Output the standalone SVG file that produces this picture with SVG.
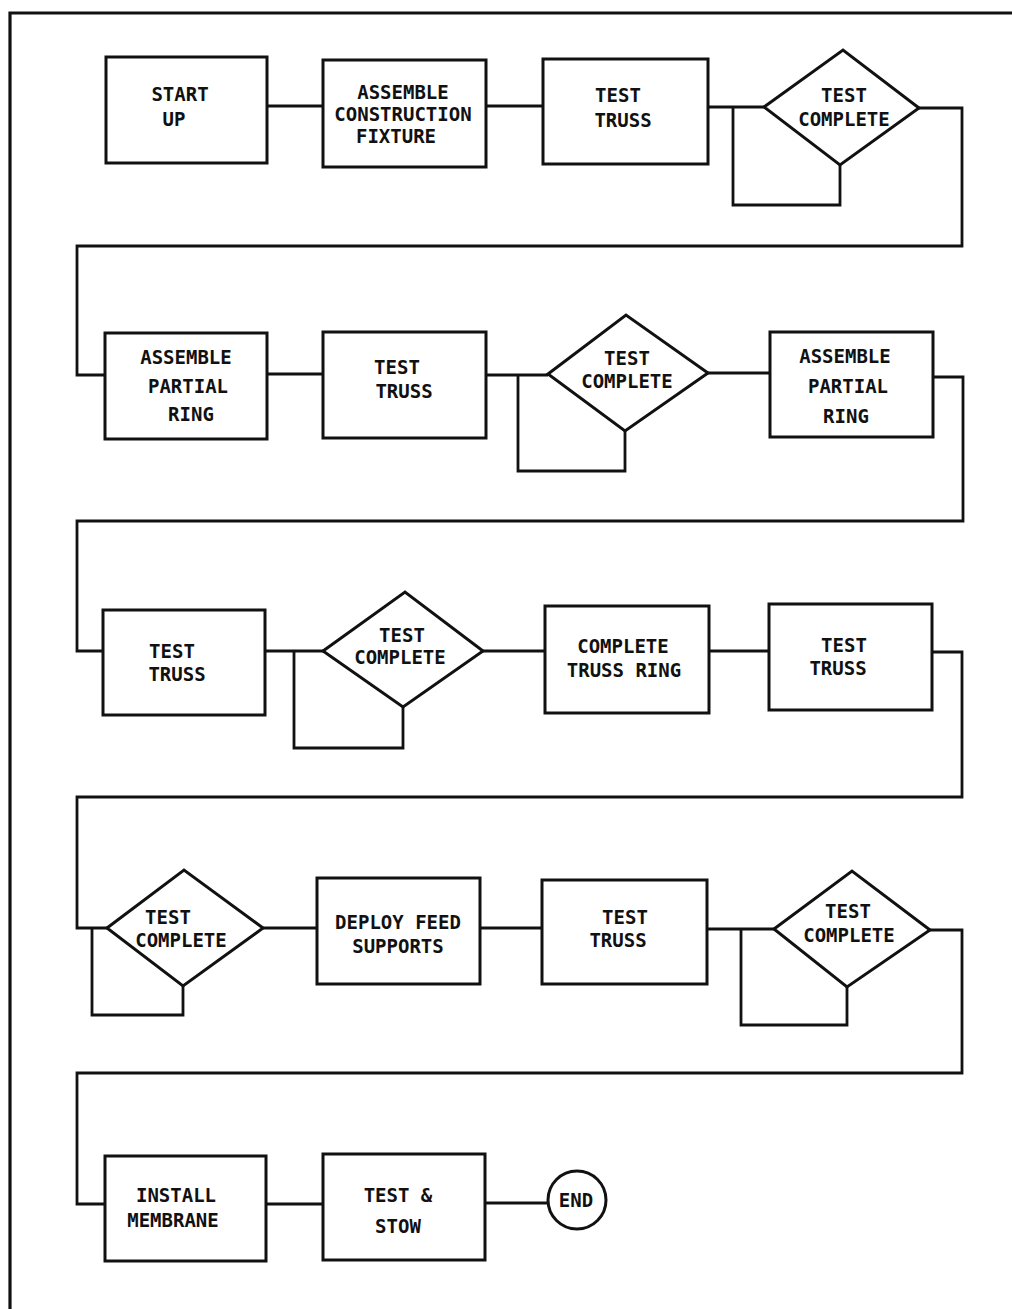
<svg xmlns="http://www.w3.org/2000/svg" width="1012" height="1309" viewBox="0 0 1012 1309">
<style>
  .box{fill:#fff;stroke:#111;stroke-width:3}
  .wire{fill:none;stroke:#111;stroke-width:2.8;stroke-linejoin:miter}
  .frame{fill:none;stroke:#111;stroke-width:3.2}
  text{font-family:"DejaVu Sans Mono","Liberation Mono",monospace;font-weight:bold;font-size:19px;fill:#111;text-anchor:middle}
</style>
<rect width="1012" height="1309" fill="#fff"/>
<path class="frame" d="M10,1309 V13 H1012"/>
<g id="connectors">
  <path class="wire" d="M267,106 H323"/>
  <path class="wire" d="M486,106 H543"/>
  <path class="wire" d="M708,107 H764"/>
  <path class="wire" d="M733,107 V205 H840 V165"/>
  <path class="wire" d="M919,108 H962 V246 H77 V375 H105"/>
  <path class="wire" d="M267,374 H323"/>
  <path class="wire" d="M486,375 H548"/>
  <path class="wire" d="M518,375 V471 H625 V431"/>
  <path class="wire" d="M708,373 H770"/>
  <path class="wire" d="M933,377 H963 V521 H77 V651 H103"/>
  <path class="wire" d="M265,651 H323"/>
  <path class="wire" d="M294,651 V748 H403 V707"/>
  <path class="wire" d="M483,651 H545"/>
  <path class="wire" d="M709,651 H769"/>
  <path class="wire" d="M932,652 H962 V797 H77 V928 H107"/>
  <path class="wire" d="M92,928 V1015 H183 V986"/>
  <path class="wire" d="M263,928 H317"/>
  <path class="wire" d="M480,928 H542"/>
  <path class="wire" d="M707,929 H774"/>
  <path class="wire" d="M741,929 V1025 H847 V987"/>
  <path class="wire" d="M930,930 H962 V1073 H77 V1204 H105"/>
  <path class="wire" d="M266,1204 H323"/>
  <path class="wire" d="M485,1203 H548"/>
</g>
<g id="start-up">
  <rect class="box" x="106" y="57" width="161" height="106"/>
  <text x="180" y="101">START</text>
  <text x="174" y="126">UP</text>
</g>
<g id="assemble-fixture">
  <rect class="box" x="323" y="60" width="163" height="107"/>
  <text x="403" y="99">ASSEMBLE</text>
  <text x="403" y="121">CONSTRUCTION</text>
  <text x="396" y="143">FIXTURE</text>
</g>
<g id="test-truss-1">
  <rect class="box" x="543" y="59" width="165" height="105"/>
  <text x="618" y="102">TEST</text>
  <text x="623" y="127">TRUSS</text>
</g>
<g id="test-complete-1">
  <polygon class="box" points="764,107 843,50 919,108 840,165"/>
  <text x="844" y="102">TEST</text>
  <text x="844" y="126">COMPLETE</text>
</g>
<g id="assemble-partial-ring-1">
  <rect class="box" x="105" y="333" width="162" height="106"/>
  <text x="186" y="364">ASSEMBLE</text>
  <text x="188" y="393">PARTIAL</text>
  <text x="191" y="421">RING</text>
</g>
<g id="test-truss-2">
  <rect class="box" x="323" y="332" width="163" height="106"/>
  <text x="397" y="374">TEST</text>
  <text x="404" y="398">TRUSS</text>
</g>
<g id="test-complete-2">
  <polygon class="box" points="548,374 626,315 708,373 625,431"/>
  <text x="627" y="365">TEST</text>
  <text x="627" y="388">COMPLETE</text>
</g>
<g id="assemble-partial-ring-2">
  <rect class="box" x="770" y="332" width="163" height="105"/>
  <text x="845" y="363">ASSEMBLE</text>
  <text x="848" y="393">PARTIAL</text>
  <text x="846" y="423">RING</text>
</g>
<g id="test-truss-3">
  <rect class="box" x="103" y="610" width="162" height="105"/>
  <text x="172" y="658">TEST</text>
  <text x="177" y="681">TRUSS</text>
</g>
<g id="test-complete-3">
  <polygon class="box" points="323,651 405,592 483,651 403,707"/>
  <text x="402" y="642">TEST</text>
  <text x="400" y="664">COMPLETE</text>
</g>
<g id="complete-truss-ring">
  <rect class="box" x="545" y="606" width="164" height="107"/>
  <text x="623" y="653">COMPLETE</text>
  <text x="624" y="677">TRUSS RING</text>
</g>
<g id="test-truss-4">
  <rect class="box" x="769" y="604" width="163" height="106"/>
  <text x="844" y="652">TEST</text>
  <text x="838" y="675">TRUSS</text>
</g>
<g id="test-complete-4">
  <polygon class="box" points="107,928 184,870 263,928 183,986"/>
  <text x="168" y="924">TEST</text>
  <text x="181" y="947">COMPLETE</text>
</g>
<g id="deploy-feed-supports">
  <rect class="box" x="317" y="878" width="163" height="106"/>
  <text x="398" y="929">DEPLOY FEED</text>
  <text x="398" y="953">SUPPORTS</text>
</g>
<g id="test-truss-5">
  <rect class="box" x="542" y="880" width="165" height="104"/>
  <text x="625" y="924">TEST</text>
  <text x="618" y="947">TRUSS</text>
</g>
<g id="test-complete-5">
  <polygon class="box" points="774,929 852,871 930,930 847,987"/>
  <text x="848" y="918">TEST</text>
  <text x="849" y="942">COMPLETE</text>
</g>
<g id="install-membrane">
  <rect class="box" x="105" y="1156" width="161" height="105"/>
  <text x="176" y="1202">INSTALL</text>
  <text x="173" y="1227">MEMBRANE</text>
</g>
<g id="test-stow">
  <rect class="box" x="323" y="1154" width="162" height="106"/>
  <text x="398" y="1202">TEST &amp;</text>
  <text x="398" y="1233">STOW</text>
</g>
<g id="end">
  <circle class="box" cx="577" cy="1200" r="29"/>
  <text x="576" y="1207">END</text>
</g>
</svg>
